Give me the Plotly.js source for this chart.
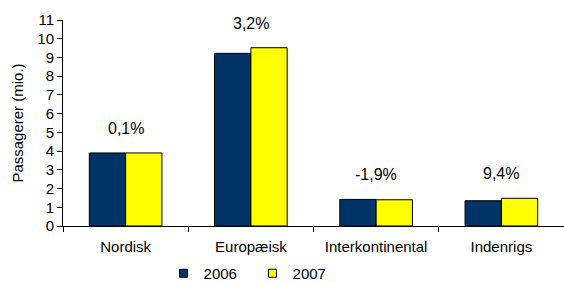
<!DOCTYPE html>
<html><head><meta charset="utf-8">
<script src="https://cdn.plot.ly/plotly-3.0.1.min.js"></script>
<style>body{margin:0;padding:0;background:#fff}#c{width:564px;height:282px}</style>
</head><body><div id="c"></div>
<script>
const categories = ["Nordisk", "Europæisk", "Interkontinental", "Indenrigs"];
const v2006 = [3.9, 9.22, 1.42, 1.35];
const v2007 = [3.9, 9.52, 1.40, 1.48];
const growth = ["0,1%", "3,2%", "-1,9%", "9,4%"];
const yTicks = [0,1,2,3,4,5,6,7,8,9,10,11];
const seriesNames = ["2006", "2007"];
const seriesColors = ["#003366", "#FFFF00"];

const font = {family: "Liberation Sans, Arial, sans-serif", size: 15, color: "#000"};
const traces = [
  {type: "bar", name: seriesNames[0], x: categories, y: v2006, showlegend: false, marker: {color: seriesColors[0], line: {color: "#000", width: 1}}},
  {type: "bar", name: seriesNames[1], x: categories, y: v2007, showlegend: false, marker: {color: seriesColors[1], line: {color: "#000", width: 1}}}
];
seriesNames.forEach((n, i) => traces.push({
  type: "scatter", mode: "markers", name: n, x: [null], y: [null], showlegend: true,
  marker: {symbol: "square", size: 8, color: seriesColors[i], line: {color: "#000", width: 1}}
}));
const annotations = categories.map((c, i) => ({
  x: c, y: Math.max(v2006[i], v2007[i]), text: growth[i], showarrow: false,
  yanchor: "bottom", yshift: 14, font: {family: font.family, size: 16, color: "#000"}
}));
Plotly.newPlot("c", traces, {
  width: 564, height: 282,
  margin: {l: 63, r: 0, t: 20, b: 56},
  paper_bgcolor: "#fff", plot_bgcolor: "#fff",
  font: font,
  bargap: 0.42, bargroupgap: 0, barmode: "group",
  showlegend: true,
  legend: {orientation: "h", x: 0.29, xref: "container", xanchor: "left", y: 0.03, yref: "container", yanchor: "middle", font: font, itemwidth: 30, entrywidth: 44, entrywidthmode: "pixels", tracegroupgap: 0, bgcolor: "rgba(0,0,0,0)"},
  xaxis: {type: "category", showline: true, linecolor: "#000", linewidth: 1, ticks: "outside", tickson: "boundaries", ticklen: 5, tickcolor: "#000", ticklabelstandoff: 7, showgrid: false, range: [-0.5, 3.5], fixedrange: true, automargin: false},
  yaxis: {range: [0, 11], tickvals: yTicks, showline: true, linecolor: "#000", linewidth: 1, ticks: "outside", ticklen: 5, tickcolor: "#000", showgrid: false, zeroline: false, automargin: false,
          title: {text: "Passagerer (mio.)", font: {family: font.family, size: 15}, standoff: 10}},
  annotations: annotations
}, {staticPlot: true});
</script></body></html>
